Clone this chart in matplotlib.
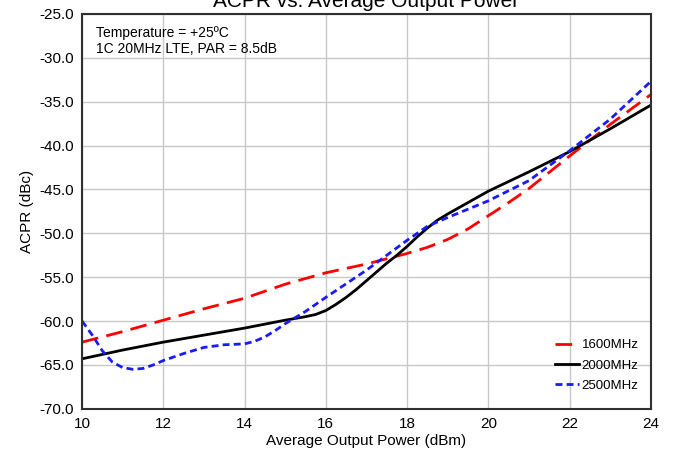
import matplotlib.pyplot as plt
from matplotlib.ticker import FormatStrFormatter

plt.rcParams['font.family'] = ['Liberation Sans', 'DejaVu Sans']

# ACPR readings (dBc) vs average output power (dBm)
x_1600 = [10, 11, 12, 13, 14, 15, 16, 17, 18, 18.5, 19, 19.5, 20, 20.5, 21,
          22, 23, 24]
y_1600 = [-62.4, -61.2, -59.9, -58.6, -57.4, -55.8, -54.5, -53.5, -52.3,
          -51.6, -50.7, -49.5, -48.0, -46.5, -44.9, -41.2, -37.6, -34.2]

x_2000 = [10, 11, 12, 13, 14, 15, 15.5, 15.75, 16, 16.25, 16.5, 16.75, 17,
          17.25, 17.5, 17.75, 18, 18.25, 18.5, 18.75, 19, 19.5, 20, 21, 22,
          23, 24]
y_2000 = [-64.3, -63.3, -62.4, -61.6, -60.8, -59.9, -59.5, -59.25, -58.8,
          -58.1, -57.3, -56.4, -55.4, -54.4, -53.4, -52.5, -51.5, -50.4,
          -49.4, -48.5, -47.8, -46.5, -45.2, -43.0, -40.7, -38.1, -35.4]

x_2500 = [10, 10.25, 10.5, 10.75, 11, 11.25, 11.5, 11.75, 12, 12.5, 13, 13.5,
          14, 14.25, 14.5, 14.75, 15, 15.5, 16, 17, 18, 18.5, 19, 20, 21, 22,
          23, 24]
y_2500 = [-60.0, -61.6, -63.4, -64.7, -65.3, -65.5, -65.4, -65.0, -64.5,
          -63.7, -63.0, -62.7, -62.6, -62.3, -61.8, -61.1, -60.3, -58.9,
          -57.3, -54.2, -50.8, -49.2, -48.2, -46.3, -44.0, -40.6, -37.0,
          -32.7]

fig, ax = plt.subplots(figsize=(6.73, 4.63), dpi=100)
fig.subplots_adjust(left=0.122, right=0.967, top=0.970, bottom=0.117)

ax.plot(x_1600, y_1600, color='#ff0000', lw=2, dashes=(6, 3), label='1600MHz')
ax.plot(x_2000, y_2000, color='black', lw=2, label='2000MHz')
ax.plot(x_2500, y_2500, color='#1a1aff', lw=2, dashes=(2.5, 1.5), label='2500MHz')

ax.set_xlim(10, 24)
ax.set_ylim(-70, -25)
ax.set_xticks(range(10, 25, 2))
ax.set_yticks(range(-70, -24, 5))
ax.yaxis.set_major_formatter(FormatStrFormatter('%.1f'))
ax.tick_params(labelsize=11, length=0, pad=6)
ax.grid(True, color='#c8c8c8', lw=1)
ax.set_axisbelow(True)
for s in ax.spines.values():
    s.set_linewidth(1.5)
    s.set_color('#303030')

ax.set_xlabel('Average Output Power (dBm)', fontsize=11, labelpad=2)
ax.set_ylabel('ACPR (dBc)', fontsize=11, labelpad=4)
ax.set_title('ACPR vs. Average Output Power', fontsize=15, pad=5)

ax.text(0.025, 0.97, 'Temperature = +25ºC\n1C 20MHz LTE, PAR = 8.5dB',
        transform=ax.transAxes, va='top', ha='left', fontsize=10, linespacing=1.2)

ax.legend(loc='lower right', frameon=False, fontsize=9.5, handlelength=1.8,
          handletextpad=0.2, labelspacing=0.6, borderaxespad=0.3,
          bbox_to_anchor=(0.995, 0.02))

plt.savefig('out.png')
